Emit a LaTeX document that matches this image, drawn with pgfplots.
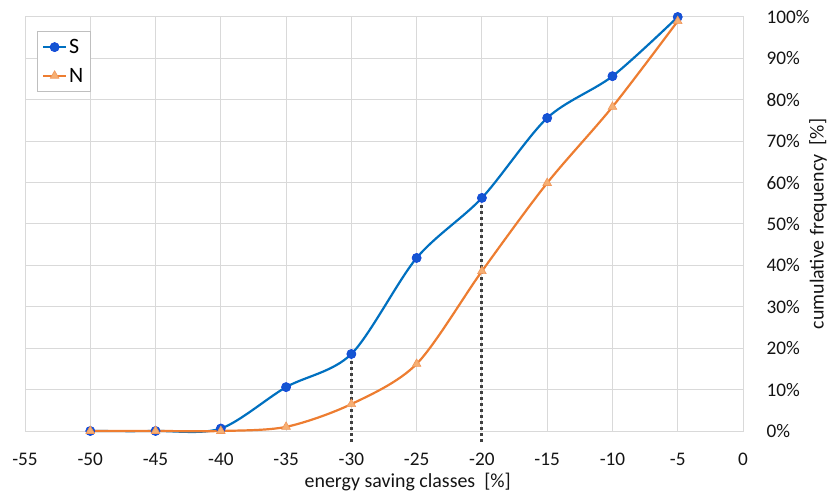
\documentclass[border=0pt]{standalone}
\usepackage{pgfplots}
\pgfplotsset{compat=1.18}
\usepackage{fontspec}
\setmainfont{Carlito}
\definecolor{sblue}{RGB}{0,112,192}
\definecolor{smark}{RGB}{20,85,210}
\definecolor{norange}{RGB}{237,125,49}
\definecolor{nmark}{RGB}{246,175,115}
\definecolor{gridc}{RGB}{217,217,217}
\definecolor{txt}{RGB}{20,20,20}

\begin{document}
\begin{tikzpicture}
\begin{axis}[name=ax, scale only axis, width=718bp, height=414bp,
  xmin=-55, xmax=0, ymin=0, ymax=100,
  xtick={-55,-50,...,0}, ytick={0,10,...,100},
  grid=major, major grid style={gridc, line width=1bp},
  axis line style={gridc, line width=1bp},
  major tick length=0pt,
  yticklabel pos=right,
  yticklabel={\pgfmathprintnumber{\tick}\%},
  /pgf/number format/assume math mode=true,
  ticklabel style={font=\fontsize{19.3}{22}\selectfont, text=txt, inner sep=0.5bp},
  xticklabel style={yshift=-21bp},
  yticklabel style={xshift=23bp, anchor=west},
  xlabel={energy saving classes\ \ [\%]},
  ylabel={cumulative frequency\ \ [\%]},
  xlabel style={at={(axis description cs:0.533,-0.124)}, anchor=center, inner sep=0pt, font=\fontsize{20}{23}\selectfont, text=txt},
  ylabel style={at={(axis description cs:1.1045,0.5)}, anchor=center, inner sep=0pt, font=\fontsize{20}{23}\selectfont, text=txt},
  clip=false,
  legend style={at={(axis description cs:0.0167,0.966)}, anchor=north west, draw=gray!50, fill=white, font=\fontsize{22}{25}\selectfont, row sep=9bp, inner xsep=5bp, inner ysep=6bp},
  legend cell align=left,
  legend image code/.code={\draw[mark repeat=2,mark phase=2] plot coordinates {(0cm,0cm)(0.4cm,0cm)(0.8cm,0cm)};},
]
\addplot[black!75, line width=3bp, dash pattern=on 3bp off 3bp, forget plot] coordinates {(-30,-2.7) (-30,18.6)};
\addplot[black!75, line width=3bp, dash pattern=on 3bp off 3bp, forget plot] coordinates {(-20,-2.7) (-20,56.3)};
\addplot[sblue, line width=2.2bp, smooth, tension=0.5, mark=*, mark size=4.6bp, mark options={fill=smark, draw=smark!80!blue, line width=0.6bp}]
  coordinates {(-50,0) (-45,0) (-40,0.6) (-35,10.6) (-30,18.6) (-25,41.8) (-20,56.3) (-15,75.6) (-10,85.7) (-5,100)};
\addlegendentry{S}
\addplot[norange, line width=2.2bp, smooth, tension=0.5, mark=triangle*, mark size=5bp, mark options={fill=nmark, draw=norange!80!white, line width=0.6bp}]
  coordinates {(-50,0) (-45,0) (-40,0) (-35,1.0) (-30,6.5) (-25,16.2) (-20,38.6) (-15,59.9) (-10,78.3) (-5,99)};
\addlegendentry{N}
\end{axis}
\path ([shift={(-25bp,-62bp)}]ax.south west) rectangle ([shift={(84bp,17bp)}]ax.north east);
\end{tikzpicture}
\end{document}
